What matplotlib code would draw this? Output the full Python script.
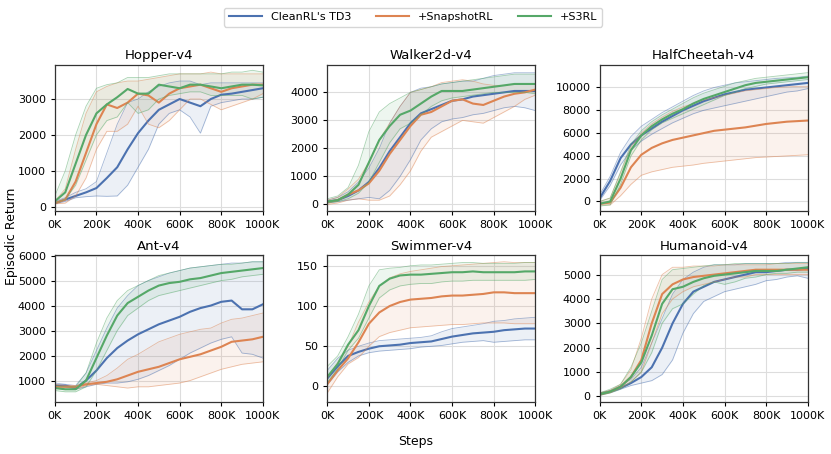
import numpy as np
import matplotlib
matplotlib.use("Agg")
import matplotlib.pyplot as plt
from matplotlib.ticker import MultipleLocator, FuncFormatter

# steps every 50K
STEPS = [i * 50000 for i in range(21)]

ENVS = ["Hopper-v4", "Walker2d-v4", "HalfCheetah-v4", "Ant-v4", "Swimmer-v4", "Humanoid-v4"]
METHODS = ["CleanRL's TD3", "+SnapshotRL", "+S3RL"]
COLORS = ["#4C72B0", "#DD8452", "#55A868"]

# ---------------- Hopper ----------------
HOPPER_TD3 = [100, 200, 300, 400, 520, 800, 1100, 1600, 2050, 2400, 2700, 2850, 3000, 2900, 2800, 3000, 3120, 3150, 3200, 3250, 3300]
HOPPER_TD3_LO = [80, 150, 250, 280, 300, 290, 300, 600, 1100, 1600, 2300, 2600, 2700, 2500, 2050, 2800, 2900, 2950, 3000, 3000, 3050]
HOPPER_TD3_HI = [150, 250, 400, 500, 700, 1500, 2300, 2900, 3000, 3200, 3350, 3450, 3500, 3500, 3400, 3450, 3450, 3450, 3450, 3450, 3450]
HOPPER_SNAP = [100, 200, 700, 1500, 2300, 2850, 2750, 2900, 3150, 3100, 2900, 3150, 3300, 3350, 3400, 3300, 3200, 3300, 3350, 3400, 3400]
HOPPER_SNAP_LO = [80, 100, 300, 800, 1600, 2100, 2100, 2300, 2800, 2300, 2200, 2400, 2700, 3000, 3000, 2850, 2700, 2800, 2900, 3000, 3150]
HOPPER_SNAP_HI = [150, 500, 1600, 2600, 3200, 3350, 3450, 3500, 3500, 3550, 3600, 3650, 3700, 3700, 3700, 3750, 3700, 3700, 3700, 3700, 3700]
HOPPER_S3RL = [150, 400, 1200, 2000, 2600, 2850, 3050, 3280, 3150, 3150, 3400, 3350, 3300, 3400, 3400, 3350, 3300, 3350, 3400, 3400, 3380]
HOPPER_S3RL_LO = [100, 200, 600, 1300, 2000, 2400, 2500, 2900, 2600, 2700, 3000, 3100, 3150, 3200, 3200, 3100, 3100, 3100, 3100, 3000, 3050]
HOPPER_S3RL_HI = [300, 1000, 2000, 2800, 3300, 3400, 3450, 3600, 3600, 3600, 3650, 3700, 3700, 3700, 3700, 3700, 3700, 3750, 3750, 3800, 3750]

# ---------------- Walker2d ----------------
WALKER_TD3 = [100, 150, 300, 500, 800, 1300, 1900, 2400, 2900, 3250, 3400, 3550, 3700, 3750, 3850, 3900, 3950, 4000, 4050, 4050, 4050]
WALKER_TD3_LO = [50, 100, 150, 200, 250, 200, 500, 1000, 1600, 2300, 2700, 2950, 3050, 3100, 3200, 3250, 3350, 3450, 3500, 3450, 3350]
WALKER_TD3_HI = [150, 250, 450, 800, 1300, 2000, 2900, 3500, 4000, 4150, 4200, 4300, 4350, 4400, 4400, 4500, 4600, 4650, 4700, 4700, 4700]
WALKER_SNAP = [80, 150, 350, 500, 750, 1200, 1800, 2300, 2800, 3200, 3300, 3500, 3700, 3750, 3600, 3550, 3700, 3850, 3950, 4000, 4100]
WALKER_SNAP_LO = [0, 50, 150, 200, 150, 150, 300, 700, 1200, 1900, 2400, 2600, 2800, 3000, 2950, 2900, 3100, 3300, 3500, 3750, 3900]
WALKER_SNAP_HI = [150, 250, 550, 900, 1500, 2300, 2900, 3500, 4000, 4100, 4200, 4350, 4400, 4450, 4400, 4300, 4250, 4250, 4300, 4300, 4300]
WALKER_S3RL = [100, 150, 350, 700, 1500, 2300, 2800, 3200, 3350, 3600, 3850, 4050, 4050, 4050, 4100, 4150, 4200, 4250, 4300, 4300, 4300]
WALKER_S3RL_LO = [50, 100, 200, 400, 800, 1500, 2200, 2700, 2900, 3200, 3500, 3700, 3800, 3850, 3900, 3950, 4000, 4000, 4000, 4000, 3950]
WALKER_S3RL_HI = [200, 300, 600, 1400, 2600, 3300, 3600, 3800, 4000, 4100, 4200, 4300, 4350, 4400, 4450, 4500, 4550, 4600, 4650, 4650, 4650]

# ---------------- HalfCheetah ----------------
CHEETAH_TD3 = [300, 1800, 3800, 5000, 5800, 6400, 7000, 7500, 8000, 8400, 8800, 9100, 9400, 9600, 9800, 9900, 10000, 10100, 10200, 10300, 10400]
CHEETAH_TD3_LO = [100, 1400, 3200, 4500, 5300, 5900, 6400, 6900, 7300, 7700, 8000, 8200, 8400, 8600, 8800, 9000, 9200, 9400, 9600, 9700, 9900]
CHEETAH_TD3_HI = [600, 2200, 4300, 5700, 6600, 7200, 7800, 8300, 8800, 9300, 9700, 10000, 10200, 10400, 10500, 10600, 10700, 10800, 10850, 10900, 11000]
CHEETAH_SNAP = [-200, -100, 1200, 3000, 4100, 4700, 5100, 5400, 5600, 5800, 6000, 6200, 6300, 6400, 6500, 6650, 6800, 6900, 7000, 7050, 7100]
CHEETAH_SNAP_LO = [-300, -300, 500, 1500, 2300, 2600, 2800, 3000, 3100, 3200, 3350, 3450, 3550, 3650, 3750, 3850, 3900, 3950, 4000, 4050, 4100]
CHEETAH_SNAP_HI = [0, 300, 2500, 4800, 6000, 6800, 7400, 7900, 8300, 8600, 8900, 9100, 9300, 9500, 9700, 9800, 9900, 10000, 10050, 10100, 10100]
CHEETAH_S3RL = [-200, 0, 2000, 4500, 5800, 6600, 7200, 7700, 8100, 8600, 9000, 9300, 9600, 9900, 10200, 10400, 10500, 10600, 10700, 10800, 10900]
CHEETAH_S3RL_LO = [-400, -300, 1500, 4000, 5400, 6300, 6900, 7300, 7700, 8100, 8500, 8900, 9300, 9600, 9900, 10100, 10300, 10400, 10500, 10600, 10700]
CHEETAH_S3RL_HI = [0, 300, 2600, 5000, 6200, 7000, 7600, 8100, 8600, 9100, 9500, 9800, 10100, 10400, 10600, 10800, 10900, 11000, 11100, 11200, 11300]

# ---------------- Ant ----------------
ANT_TD3 = [800, 800, 700, 1000, 1400, 1900, 2300, 2600, 2850, 3050, 3250, 3400, 3550, 3750, 3900, 4000, 4150, 4200, 3850, 3850, 4050]
ANT_TD3_LO = [750, 750, 650, 750, 850, 900, 900, 950, 1050, 1200, 1400, 1600, 1850, 2100, 2300, 2500, 2650, 2750, 2100, 2050, 1900]
ANT_TD3_HI = [900, 850, 800, 1300, 2200, 3100, 3900, 4400, 4800, 5000, 5150, 5300, 5400, 5500, 5550, 5600, 5650, 5700, 5700, 5750, 5750]
ANT_SNAP = [750, 750, 750, 850, 900, 950, 1050, 1200, 1350, 1450, 1550, 1700, 1850, 1950, 2050, 2200, 2350, 2550, 2600, 2650, 2750]
ANT_SNAP_LO = [700, 650, 650, 800, 850, 800, 750, 700, 750, 750, 800, 850, 900, 1000, 1150, 1300, 1450, 1550, 1650, 1700, 1750]
ANT_SNAP_HI = [850, 800, 800, 900, 1000, 1200, 1500, 1850, 2050, 2300, 2550, 2700, 2850, 2950, 3050, 3100, 3300, 3450, 3500, 3600, 3700]
ANT_S3RL = [700, 650, 650, 1000, 1900, 2800, 3600, 4100, 4350, 4600, 4800, 4900, 4950, 5050, 5100, 5200, 5300, 5350, 5400, 5450, 5500]
ANT_S3RL_LO = [600, 550, 550, 750, 1400, 2200, 3000, 3600, 3900, 4200, 4400, 4500, 4600, 4700, 4800, 4900, 5000, 5050, 5150, 5200, 5250]
ANT_S3RL_HI = [800, 750, 750, 1300, 2500, 3500, 4200, 4600, 4800, 5000, 5200, 5300, 5400, 5500, 5550, 5600, 5650, 5650, 5700, 5750, 5750]

# ---------------- Swimmer ----------------
SWIM_TD3 = [10, 25, 38, 43, 47, 50, 51, 52, 54, 55, 56, 59, 62, 64, 66, 67, 68, 70, 71, 72, 72]
SWIM_TD3_LO = [2, 18, 30, 38, 42, 44, 45, 46, 47, 49, 50, 51, 53, 55, 56, 57, 55, 56, 57, 58, 58]
SWIM_TD3_HI = [20, 35, 45, 50, 54, 57, 58, 59, 60, 61, 63, 68, 72, 74, 76, 78, 81, 82, 84, 85, 86]
SWIM_SNAP = [3, 20, 35, 55, 78, 92, 100, 105, 108, 109, 110, 112, 113, 113, 114, 115, 117, 117, 116, 116, 116]
SWIM_SNAP_LO = [-8, 12, 28, 36, 50, 62, 67, 70, 73, 74, 75, 76, 77, 77, 78, 79, 79, 79, 78, 78, 78]
SWIM_SNAP_HI = [10, 30, 50, 80, 105, 125, 135, 140, 143, 145, 147, 149, 150, 151, 152, 153, 154, 155, 154, 154, 154]
SWIM_S3RL = [12, 28, 52, 70, 100, 125, 134, 138, 139, 139, 140, 141, 142, 142, 143, 142, 142, 142, 142, 143, 143]
SWIM_S3RL_LO = [5, 22, 45, 60, 85, 110, 120, 125, 127, 128, 128, 130, 131, 131, 132, 132, 132, 132, 132, 132, 133]
SWIM_S3RL_HI = [25, 38, 62, 90, 125, 145, 147, 148, 150, 151, 151, 152, 153, 154, 154, 153, 153, 153, 153, 154, 154]

# ---------------- Humanoid ----------------
HUMAN_TD3 = [100, 200, 350, 550, 800, 1200, 2000, 3000, 3800, 4300, 4500, 4700, 4800, 4900, 5000, 5100, 5100, 5150, 5200, 5200, 5250]
HUMAN_TD3_LO = [50, 150, 300, 450, 550, 650, 900, 1500, 2600, 3400, 3900, 4100, 4300, 4400, 4500, 4600, 4750, 4800, 4900, 4950, 4850]
HUMAN_TD3_HI = [150, 250, 450, 700, 1200, 2200, 3200, 4200, 4800, 5100, 5300, 5400, 5400, 5400, 5450, 5450, 5450, 5450, 5500, 5500, 5500]
HUMAN_SNAP = [100, 200, 400, 800, 1500, 3000, 4200, 4600, 4800, 4900, 4950, 5000, 5050, 5100, 5150, 5200, 5200, 5200, 5200, 5200, 5200]
HUMAN_SNAP_LO = [50, 150, 350, 600, 1000, 2200, 3400, 4000, 4300, 4500, 4600, 4700, 4800, 4900, 4900, 5000, 5000, 5000, 5000, 5000, 5000]
HUMAN_SNAP_HI = [150, 250, 500, 1100, 2400, 4000, 5000, 5300, 5300, 5350, 5350, 5350, 5400, 5400, 5400, 5400, 5400, 5450, 5450, 5450, 5450]
HUMAN_S3RL = [100, 200, 400, 800, 1400, 2500, 3800, 4400, 4500, 4700, 4850, 4950, 5000, 5050, 5100, 5150, 5150, 5150, 5200, 5250, 5300]
HUMAN_S3RL_LO = [50, 150, 300, 600, 1000, 1800, 3000, 3600, 3800, 4200, 4550, 4700, 4600, 4700, 4850, 4900, 5000, 5050, 5050, 5100, 5100]
HUMAN_S3RL_HI = [150, 300, 500, 1200, 2200, 3500, 4800, 5200, 5250, 5300, 5350, 5400, 5400, 5450, 5450, 5450, 5450, 5450, 5450, 5500, 5500]

YLIMS = [(-130, 3950), (-250, 4980), (-870, 11980), (150, 6010), (-19, 163), (-217, 5790)]
YSTEPS = [1000, 1000, 2000, 1000, 50, 1000]


def draw_env(ax, title, runs, ylim, ystep):
    x = np.array(STEPS)
    for (mean, lo, hi), color, label in zip(runs, COLORS, METHODS):
        ax.fill_between(x, lo, hi, color=color, alpha=0.1, linewidth=0)
        ax.plot(x, lo, color=color, linewidth=0.6, alpha=0.5)
        ax.plot(x, hi, color=color, linewidth=0.6, alpha=0.5)
        ax.plot(x, mean, color=color, linewidth=1.5, label=label)
    ax.set_title(title, fontsize=9.5, pad=4)
    ax.set_xlim(0, 1000000)
    ax.set_ylim(*ylim)
    ax.xaxis.set_major_locator(MultipleLocator(200000))
    ax.xaxis.set_major_formatter(FuncFormatter(lambda v, p: "%dK" % int(round(v / 1000))))
    ax.yaxis.set_major_locator(MultipleLocator(ystep))
    ax.tick_params(labelsize=8, length=3, width=0.8)
    ax.grid(True, color="#dddddd", linewidth=0.8)
    ax.set_axisbelow(True)
    for s in ax.spines.values():
        s.set_color("#333333")
        s.set_linewidth(0.9)


if __name__ == "__main__":
    plt.close("all")
    fig, axes = plt.subplots(2, 3, figsize=(8.31, 4.54), dpi=100)
    fig.subplots_adjust(left=0.066, right=0.972, top=0.857, bottom=0.115, wspace=0.31, hspace=0.30)

    all_runs = [
        [(HOPPER_TD3, HOPPER_TD3_LO, HOPPER_TD3_HI), (HOPPER_SNAP, HOPPER_SNAP_LO, HOPPER_SNAP_HI), (HOPPER_S3RL, HOPPER_S3RL_LO, HOPPER_S3RL_HI)],
        [(WALKER_TD3, WALKER_TD3_LO, WALKER_TD3_HI), (WALKER_SNAP, WALKER_SNAP_LO, WALKER_SNAP_HI), (WALKER_S3RL, WALKER_S3RL_LO, WALKER_S3RL_HI)],
        [(CHEETAH_TD3, CHEETAH_TD3_LO, CHEETAH_TD3_HI), (CHEETAH_SNAP, CHEETAH_SNAP_LO, CHEETAH_SNAP_HI), (CHEETAH_S3RL, CHEETAH_S3RL_LO, CHEETAH_S3RL_HI)],
        [(ANT_TD3, ANT_TD3_LO, ANT_TD3_HI), (ANT_SNAP, ANT_SNAP_LO, ANT_SNAP_HI), (ANT_S3RL, ANT_S3RL_LO, ANT_S3RL_HI)],
        [(SWIM_TD3, SWIM_TD3_LO, SWIM_TD3_HI), (SWIM_SNAP, SWIM_SNAP_LO, SWIM_SNAP_HI), (SWIM_S3RL, SWIM_S3RL_LO, SWIM_S3RL_HI)],
        [(HUMAN_TD3, HUMAN_TD3_LO, HUMAN_TD3_HI), (HUMAN_SNAP, HUMAN_SNAP_LO, HUMAN_SNAP_HI), (HUMAN_S3RL, HUMAN_S3RL_LO, HUMAN_S3RL_HI)],
    ]

    for ax, title, runs, ylim, ystep in zip(axes.flat, ENVS, all_runs, YLIMS, YSTEPS):
        draw_env(ax, title, runs, ylim, ystep)

    handles, labels = axes[0, 0].get_legend_handles_labels()
    fig.legend(handles, labels, loc="upper center", bbox_to_anchor=(0.497, 0.995), ncol=3,
               fontsize=8, frameon=True, edgecolor="#cccccc", fancybox=True,
               handlelength=3, columnspacing=2.2)
    fig.text(0.014, 0.48, "Episodic Return", rotation=90, ha="center", va="center", fontsize=9)
    fig.text(0.5, 0.028, "Steps", ha="center", va="center", fontsize=9)

    fig.savefig("out.png", dpi=100)
